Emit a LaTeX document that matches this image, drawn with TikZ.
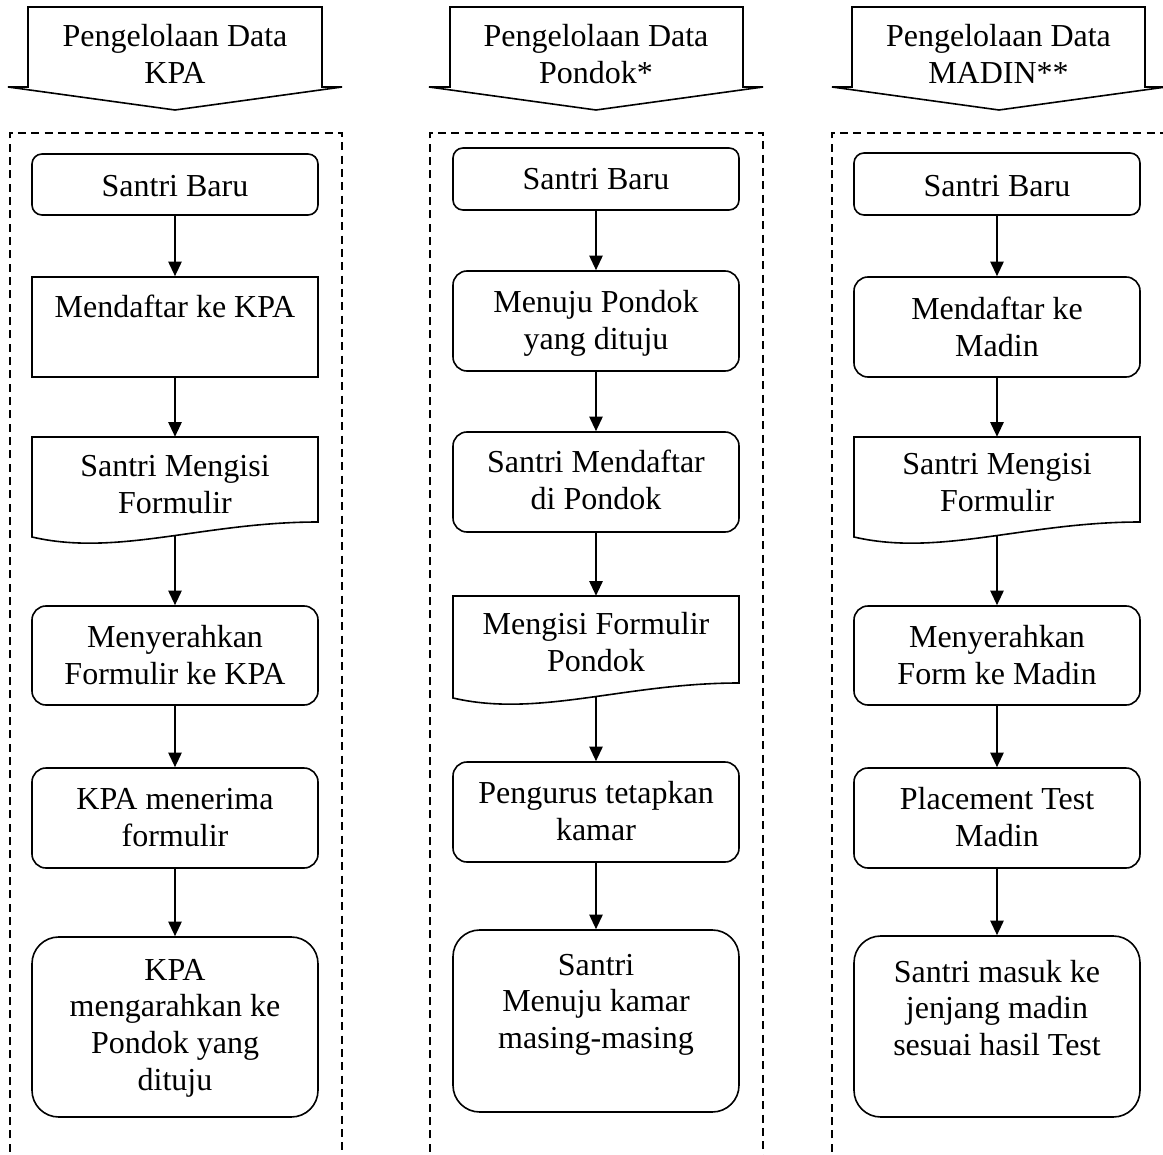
\documentclass[tikz,border=0pt]{standalone}
\usepackage{fontspec}
\setmainfont{Liberation Serif}
\usetikzlibrary{arrows.meta}
\tikzset{
  box/.style={draw, line width=1.2pt, minimum width=214.5pt, inner sep=0pt},
  rbox/.style={box, rounded corners=10.5pt},
  ghost/.style={minimum width=214.5pt, inner sep=0pt},
  lbl/.style={align=center, inner sep=0pt, font=\fontsize{24}{27.6}\selectfont},
  flow/.style={-{Triangle[width=10pt,length=11pt]}, line width=1.4pt},
  frame/.style={dash pattern=on 6pt off 4pt, line width=1.1pt},
  hdr/.style={draw, line width=1.2pt, line join=miter},
}
\begin{document}
\begin{tikzpicture}[x=0.75pt, y=-0.75pt]
\fill[white] (0,0) rectangle (1163,1155);
\useasboundingbox (0,0) rectangle (1163,1155);
\clip (0,0) rectangle (1163,1155);

% ---------- headers ----------
\draw[hdr] (28,7) -- (322,7) -- (322,87) -- (342,87) -- (175,110) -- (8,87) -- (28,87) -- cycle;
\draw[hdr] (450,7) -- (743,7) -- (743,87) -- (763,87) -- (596,110) -- (429,87) -- (450,87) -- cycle;
\draw[hdr] (852,7) -- (1145,7) -- (1145,87) -- (1166,87) -- (999,110) -- (832,87) -- (852,87) -- cycle;
\node[lbl] (h1) at (175,58) {\strut Pengelolaan Data\\\strut KPA};
\node[lbl] (h2) at (596,58) {\strut Pengelolaan Data\\\strut Pondok*};
\node[lbl] (h3) at (998.5,58) {\strut Pengelolaan Data\\\strut MADIN**};

% ---------- dashed frames ----------
\draw[frame] (10,1165) -- (10,133) -- (342,133) -- (342,1165);
\draw[frame] (430,1165) -- (430,133) -- (763,133) -- (763,1165);
\draw[frame] (832,1165) -- (832,133) -- (1175,133) -- (1175,1165);

% ---------- column 1 ----------
\node[box, rounded corners=7.5pt, minimum height=45.75pt] (s1) at (175,184.5) {};
\node[box, minimum height=75pt] (m1) at (175,327) {};
\node[ghost, minimum height=75pt] (f1) at (175,487) {};
\draw[hdr] (32,437) -- (318,437) -- (318,522) .. controls (203.6,522) and (117.8,557) .. (32,537) -- cycle;
\coordinate (f1w) at (175,536);
\node[rbox, minimum height=74.25pt] (y1) at (175,655.5) {};
\node[rbox, minimum height=75pt] (r1) at (175,818) {};
\node[box, rounded corners=20pt, minimum height=135pt] (a1) at (175,1027) {};

\node[lbl] (ts1) at (175,188.7) {\strut Santri Baru};
\node[lbl] (tm1) at (175,309.7) {\strut Mendaftar ke KPA};
\node[lbl] (tf1) at (175,488) {\strut Santri Mengisi\\\strut Formulir};
\node[lbl] (ty1) at (175,659) {\strut Menyerahkan\\\strut Formulir ke KPA};
\node[lbl] (tr1) at (175,821) {\strut KPA menerima\\\strut formulir};
\node[lbl] (ta1) at (175,1028) {\strut KPA\\\strut mengarahkan ke\\\strut Pondok yang\\\strut dituju};

\draw[flow] (s1.south) -- (m1.north);
\draw[flow] (m1.south) -- (f1.north);
\draw[flow] (f1w) -- (y1.north);
\draw[flow] (y1.south) -- (r1.north);
\draw[flow] (r1.south) -- (a1.north);

% ---------- column 2 ----------
\node[box, rounded corners=7.5pt, minimum height=46.5pt] (s2) at (596,179) {};
\node[rbox, minimum height=75pt] (p2) at (596,321) {};
\node[rbox, minimum height=75pt] (d2) at (596,482) {};
\node[ghost, minimum height=76.5pt] (f2) at (596,647) {};
\draw[hdr] (453,596) -- (739,596) -- (739,683) .. controls (624.6,683) and (538.8,718) .. (453,698) -- cycle;
\coordinate (f2w) at (596,697);
\node[rbox, minimum height=75pt] (k2) at (596,812) {};
\node[box, rounded corners=20pt, minimum height=136.5pt] (z2) at (596,1021) {};

\node[lbl] (ts2) at (596,181.7) {\strut Santri Baru};
\node[lbl] (tp2) at (596,324) {\strut Menuju Pondok\\\strut yang dituju};
\node[lbl] (td2) at (596,484) {\strut Santri Mendaftar\\\strut di Pondok};
\node[lbl] (tf2) at (596,646) {\strut Mengisi Formulir\\\strut Pondok};
\node[lbl] (tk2) at (596,815) {\strut Pengurus tetapkan\\\strut kamar};
\node[lbl] (tz2) at (596,1004.5) {\strut Santri\\\strut Menuju kamar\\\strut masing-masing};

\draw[flow] (s2.south) -- (p2.north);
\draw[flow] (p2.south) -- (d2.north);
\draw[flow] (d2.south) -- (f2.north);
\draw[flow] (f2w) -- (k2.north);
\draw[flow] (k2.south) -- (z2.north);

% ---------- column 3 ----------
\node[box, rounded corners=7.5pt, minimum height=46.5pt] (s3) at (997,184) {};
\node[rbox, minimum height=75pt] (m3) at (997,327) {};
\node[ghost, minimum height=75pt] (f3) at (997,487) {};
\draw[hdr] (854,437) -- (1140,437) -- (1140,522) .. controls (1025.6,522) and (939.8,557) .. (854,537) -- cycle;
\coordinate (f3w) at (997,536);
\node[rbox, minimum height=74.25pt] (y3) at (997,655.5) {};
\node[rbox, minimum height=75pt] (t3) at (997,818) {};
\node[box, rounded corners=20pt, minimum height=135.75pt] (z3) at (997,1026.5) {};

\node[lbl] (ts3) at (997,188.7) {\strut Santri Baru};
\node[lbl] (tm3) at (997,331) {\strut Mendaftar ke\\\strut Madin};
\node[lbl] (tf3) at (997,486) {\strut Santri Mengisi\\\strut Formulir};
\node[lbl] (ty3) at (997,659) {\strut Menyerahkan\\\strut Form ke Madin};
\node[lbl] (tt3) at (997,821) {\strut Placement Test\\\strut Madin};
\node[lbl] (tz3) at (997,1011.5) {\strut Santri masuk ke\\\strut jenjang madin\\\strut sesuai hasil Test};

\draw[flow] (s3.south) -- (m3.north);
\draw[flow] (m3.south) -- (f3.north);
\draw[flow] (f3w) -- (y3.north);
\draw[flow] (y3.south) -- (t3.north);
\draw[flow] (t3.south) -- (z3.north);
\end{tikzpicture}
\end{document}
